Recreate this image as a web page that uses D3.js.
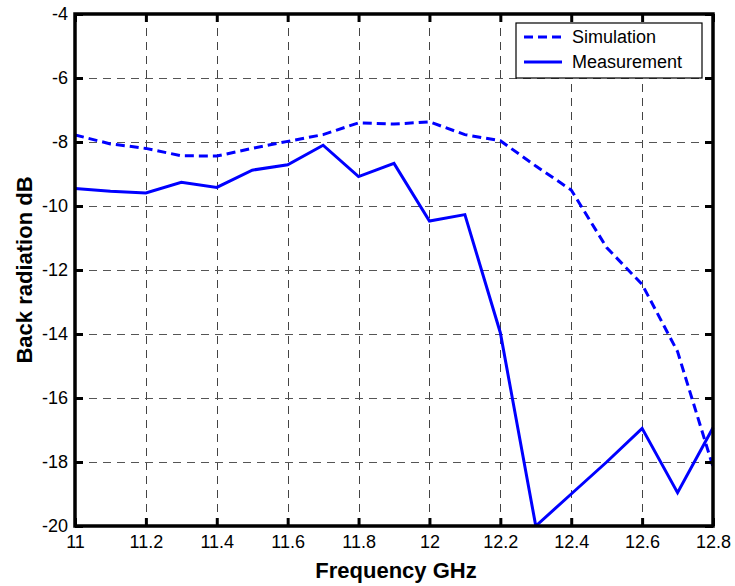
<!DOCTYPE html>
<html>
<head>
<meta charset="utf-8">
<script src="https://cdn.jsdelivr.net/npm/d3@7"></script>
<style>
  html, body { margin: 0; padding: 0; background: #fff; }
  svg { display: block; font-family: "Liberation Sans", Arial, sans-serif; }
</style>
</head>
<body>
<svg id="chart" width="735" height="586"></svg>
<script>
// Frequency samples (GHz)
const frequency = [11.0, 11.1, 11.2, 11.3, 11.4, 11.5, 11.6, 11.7, 11.8, 11.9, 12.0, 12.1, 12.2, 12.3, 12.4, 12.5, 12.6, 12.7, 12.8];
// Back radiation (dB)
const simulation = [-7.78, -8.06, -8.2, -8.43, -8.44, -8.2, -7.98, -7.77, -7.4, -7.44, -7.37, -7.77, -7.96, -8.75, -9.5, -11.3, -12.45, -14.55, -18.15];
const measurement = [-9.45, -9.54, -9.59, -9.26, -9.42, -8.88, -8.71, -8.1, -9.08, -8.67, -10.47, -10.27, -13.96, -20.0, -19.0, -18.0, -16.95, -18.96, -16.93];
const xTicks = [11, 11.2, 11.4, 11.6, 11.8, 12, 12.2, 12.4, 12.6, 12.8];
const yTicks = [-20, -18, -16, -14, -12, -10, -8, -6, -4];
const seriesNames = ["Simulation", "Measurement"];

const svg = d3.select("#chart");
const plot = { left: 75, right: 713, top: 14, bottom: 526 };

const x = d3.scaleLinear().domain([11, 12.8]).range([plot.left, plot.right]);
const y = d3.scaleLinear().domain([-20, -4]).range([plot.bottom, plot.top]);

// Plain hyphen for negative numbers
const fmt = d => String(+d.toFixed(1));

// Dashed grid
const grid = svg.append("g").attr("stroke", "#444").attr("stroke-width", 1)
  .attr("stroke-dasharray", "8,6").attr("fill", "none");
xTicks.slice(1, -1).forEach(t => {
  grid.append("line").attr("x1", Math.round(x(t)) + 0.5).attr("x2", Math.round(x(t)) + 0.5)
    .attr("y1", plot.top).attr("y2", plot.bottom);
});
yTicks.slice(1, -1).forEach(t => {
  grid.append("line").attr("y1", Math.round(y(t)) + 0.5).attr("y2", Math.round(y(t)) + 0.5)
    .attr("x1", plot.left).attr("x2", plot.right).attr("stroke", "#555");
});

// Data lines
svg.append("clipPath").attr("id", "plotclip").append("rect")
  .attr("x", plot.left).attr("y", plot.top - 2)
  .attr("width", plot.right - plot.left + 2).attr("height", plot.bottom - plot.top + 3);

const line = d3.line().x((d, i) => x(frequency[i])).y(d => y(d));
const lines = svg.append("g").attr("clip-path", "url(#plotclip)");
lines.append("path").datum(simulation).attr("d", line)
  .attr("fill", "none").attr("stroke", "#0000ff").attr("stroke-width", 3)
  .attr("stroke-dasharray", "9,5");
lines.append("path").datum(measurement).attr("d", line)
  .attr("fill", "none").attr("stroke", "#0000ff").attr("stroke-width", 3)
  .attr("stroke-linejoin", "miter");

// Axes with inward ticks on all four sides
const tickLen = 8;
const axB = d3.axisBottom(x).tickValues(xTicks).tickSize(-tickLen).tickPadding(9).tickFormat(fmt);
const axT = d3.axisTop(x).tickValues(xTicks).tickSize(-tickLen).tickFormat("");
const axL = d3.axisLeft(y).tickValues(yTicks).tickSize(-tickLen).tickPadding(7).tickFormat(fmt);
const axR = d3.axisRight(y).tickValues(yTicks).tickSize(-tickLen).tickFormat("");

function styleAxis(g) {
  g.select(".domain").remove();
  g.selectAll(".tick line").attr("stroke", "#000").attr("stroke-width", 3);
  g.selectAll(".tick text").attr("fill", "#000").style("font-size", "18px")
    .style("font-family", "'Liberation Sans', Arial, sans-serif");
}
svg.append("g").attr("transform", `translate(0,${plot.bottom})`).call(axB).call(styleAxis);
svg.append("g").attr("transform", `translate(0,${plot.top})`).call(axT).call(styleAxis);
svg.append("g").attr("transform", `translate(${plot.left},0)`).call(axL).call(styleAxis);
svg.append("g").attr("transform", `translate(${plot.right},0)`).call(axR).call(styleAxis);

// Frame
svg.append("rect").attr("x", plot.left).attr("y", plot.top)
  .attr("width", plot.right - plot.left).attr("height", plot.bottom - plot.top)
  .attr("fill", "none").attr("stroke", "#000").attr("stroke-width", 3.5);

// Axis titles
svg.append("text").attr("x", (plot.left + plot.right) / 2 + 2).attr("y", 578)
  .attr("text-anchor", "middle").style("font-size", "22px").style("font-weight", "bold")
  .text("Frequency GHz");
svg.append("text").attr("transform", `translate(32,${(plot.top + plot.bottom) / 2}) rotate(-90)`)
  .attr("text-anchor", "middle").style("font-size", "22px").style("font-weight", "bold")
  .text("Back radiation dB");

// Legend
const legend = svg.append("g");
legend.append("rect").attr("x", 516).attr("y", 23).attr("width", 186).attr("height", 55)
  .attr("fill", "#fff").attr("stroke", "#000").attr("stroke-width", 1.2);
seriesNames.forEach((name, i) => {
  const ly = 37 + i * 25;
  legend.append("line").attr("x1", 524).attr("x2", 562).attr("y1", ly).attr("y2", ly)
    .attr("stroke", "#0000ff").attr("stroke-width", 3)
    .attr("stroke-dasharray", i === 0 ? "9,5" : null);
  legend.append("text").attr("x", 572).attr("y", ly + 6).style("font-size", "18px")
    .text(name);
});
</script>
</body>
</html>
